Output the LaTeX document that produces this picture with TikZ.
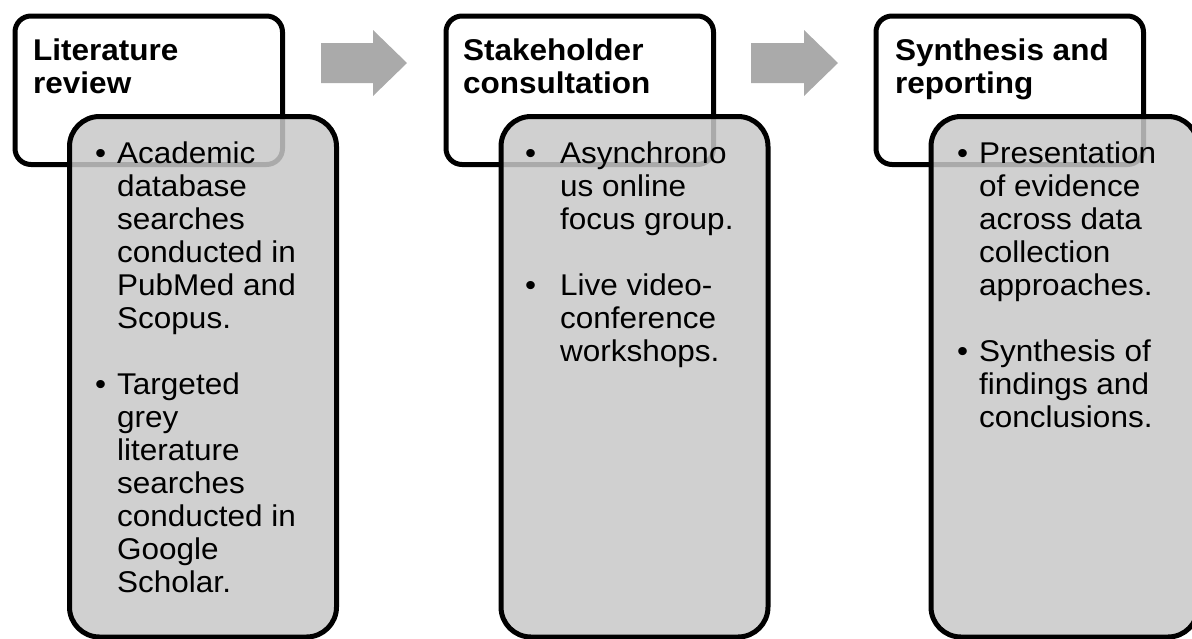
\documentclass[tikz,border=0pt]{standalone}
\usepackage{fontspec}
\setmainfont{Liberation Sans}[FakeStretch=1.05]
\usepackage{array}
\begin{document}
\begin{tikzpicture}[x=1pt,y=-1pt,
  stage/.style={draw=black, line width=5pt, fill=white, rounded corners=16pt,
    anchor=north west, minimum width=267.5pt, minimum height=148.5pt, inner sep=0pt},
  detail/.style={draw=black, line width=5pt, fill={rgb,255:red,200;green,200;blue,200},
    fill opacity=0.85, draw opacity=1, rounded corners=30pt,
    anchor=north west, minimum width=267pt, minimum height=520.5pt, inner sep=0pt},
  title/.style={anchor=base west, inner sep=0pt, font=\fontsize{30}{33}\selectfont\bfseries},
  items/.style={anchor=base west, inner sep=0pt, font=\fontsize{30}{33}\selectfont},
  flow/.style={fill={rgb,255:red,170;green,170;blue,170}, draw=none}
]
\useasboundingbox (0,0) rectangle (1192,638);
\clip (0,0) rectangle (1192,638);

% step boxes (white headers) and their detail panels
\node[stage] (h1) at (12.5,13.5) {};
\node[stage] (h2) at (443.5,13.5) {};
\node[stage] (h3) at (873.5,13.5) {};

\node[title] (t1) at (33,60) {\begin{tabular}[t]{@{}l@{}}Literature\\review\end{tabular}};
\node[title] (t2) at (463,60) {\begin{tabular}[t]{@{}l@{}}Stakeholder\\consultation\end{tabular}};
\node[title] (t3) at (895,60) {\begin{tabular}[t]{@{}l@{}}Synthesis and\\reporting\end{tabular}};

\node[detail] (d1) at (67,114) {};
\node[detail] (d2) at (498.5,114) {};
\node[detail] (d3) at (928.5,114) {};

\node[items] (b1) at (95,163) {\begin{tabular}[t]{@{}p{22pt}@{}l@{}}
  • & Academic\\ & database\\ & searches\\ & conducted in\\ & PubMed and\\ & Scopus.\\
  & \\
  • & Targeted\\ & grey\\ & literature\\ & searches\\ & conducted in\\ & Google\\ & Scholar.
\end{tabular}};

\node[items] (b2) at (525,163) {\begin{tabular}[t]{@{}p{35pt}@{}l@{}}
  • & Asynchrono\\ & us online\\ & focus group.\\
  & \\
  • & Live video-\\ & conference\\ & workshops.
\end{tabular}};

\node[items] (b3) at (957,163) {\begin{tabular}[t]{@{}p{22pt}@{}l@{}}
  • & Presentation\\ & of evidence\\ & across data\\ & collection\\ & approaches.\\
  & \\
  • & Synthesis of\\ & findings and\\ & conclusions.
\end{tabular}};

% block arrows between the steps
\fill[flow] (321,43) -- (373,43) -- (373,30) -- (407,63) -- (373,96) -- (373,83) -- (321,83) -- cycle;
\fill[flow] (751,43) -- (804,43) -- (804,30) -- (838,63) -- (804,96) -- (804,83) -- (751,83) -- cycle;
\end{tikzpicture}
\end{document}
